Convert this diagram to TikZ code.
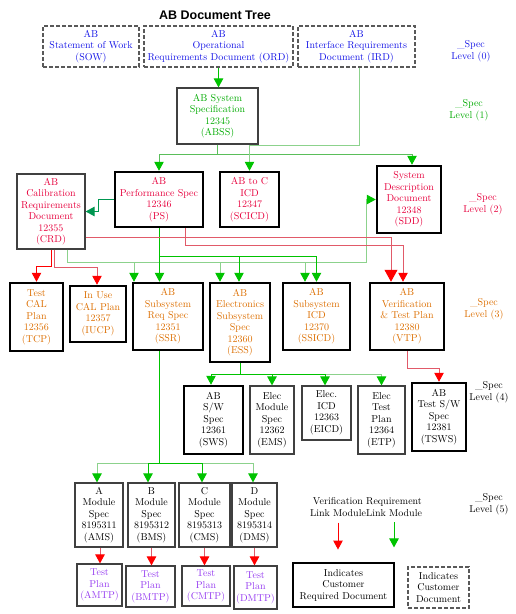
\documentclass[tikz,border=0pt]{standalone}
\usepackage{fontspec}
\usetikzlibrary{arrows.meta}
\newfontfamily\titlefont{Liberation Sans}
\definecolor{docblue}{RGB}{20,20,230}
\definecolor{docgreen}{RGB}{0,170,0}
\definecolor{docred}{RGB}{230,0,60}
\definecolor{docorange}{RGB}{220,110,0}
\definecolor{docpurple}{RGB}{150,60,240}
\definecolor{gbright}{RGB}{0,195,0}
\definecolor{gmid}{RGB}{90,190,90}
\definecolor{glight}{RGB}{140,210,140}
\definecolor{gteal}{RGB}{0,150,80}
\definecolor{rbright}{RGB}{255,0,0}
\definecolor{rlight}{RGB}{225,90,105}

\begin{document}
\begin{tikzpicture}[x=1pt,y=-1pt,
    every node/.style={font=\fontsize{10}{11.5}\selectfont, align=center, inner sep=0pt},
    doc/.style={draw=black!75, line width=1.2pt},
    reqdoc/.style={draw=black, line width=2.5pt},
    custdoc/.style={draw=black!65, line width=1.2pt, dash pattern=on 4pt off 2pt},
    gtip/.style={-{Triangle[width=9.5pt,length=9pt,color=gbright]}},
    rtip/.style={-{Triangle[width=9.5pt,length=9pt,color=rbright]}},
    glinkA/.style={draw=gbright, line width=1pt, gtip},
    glinkB/.style={draw=gmid, line width=1pt, gtip},
    glinkC/.style={draw=glight, line width=1pt, gtip},
    glinkD/.style={draw=gteal, line width=1pt, -{Triangle[width=9.5pt,length=9pt,color=gteal]}},
    rlinkA/.style={draw=rbright, line width=1pt, rtip},
    rlinkB/.style={draw=rlight, line width=1pt, rtip},
    rlinkbig/.style={draw=rlight, line width=1pt, -{Triangle[width=13pt,length=12pt,color=rbright]}}]
    \useasboundingbox (0,0) rectangle (516,614);

% 标题
    \node[font=\titlefont\bfseries\fontsize{12.5}{14}\selectfont] (title) at (215,15) {AB Document Tree};

% 第0层 客户文件
    \node[custdoc, text=docblue, minimum width=96pt, minimum height=41pt] (SOW) at (91,46.5) {AB\\Statement of Work\\(SOW)};
    \node[custdoc, text=docblue, minimum width=149pt, minimum height=41pt] (ORD) at (218.5,46.5) {AB\\Operational\\Requirements Document (ORD)};
    \node[custdoc, text=docblue, minimum width=117pt, minimum height=41pt] (IRD) at (356.5,46.5) {AB\\Interface Requirements\\Document (IRD)};
    \node[text=docblue] (lv0) at (471,51) {\_Spec\\Level (0)};

% 第1层
    \node[doc, text=docgreen, minimum width=81pt, minimum height=56pt] (ABSS) at (217.5,116) {AB System\\Specification\\12345\\(ABSS)};
    \node[text=docgreen] (lv1) at (469,110) {\_Spec\\Level (1)};

% 第2层
    \node[doc, text=docred, minimum width=68pt, minimum height=75pt] (CRD) at (51,211.5) {AB\\Calibration\\Requirements\\Document\\12355\\(CRD)};
    \node[reqdoc, text=docred, minimum width=88pt, minimum height=55pt] (PS) at (159,199.5) {AB\\Performance Spec\\12346\\(PS)};
    \node[reqdoc, text=docred, minimum width=59pt, minimum height=55pt] (SCICD) at (249.5,199.5) {AB to C\\ICD\\12347\\(SCICD)};
    \node[reqdoc, text=docred, minimum width=64pt, minimum height=67pt] (SDD) at (409,199.5) {System\\Description\\Document\\12348\\(SDD)};
    \node[text=docred] (lv2) at (483,204) {\_Spec\\Level (2)};

% 第3层
    \node[reqdoc, text=docorange, minimum width=53pt, minimum height=68pt] (TCP) at (36.5,317) {Test\\CAL\\Plan\\12356\\(TCP)};
    \node[reqdoc, text=docorange, minimum width=56pt, minimum height=56pt] (IUCP) at (98,314) {In Use\\CAL Plan\\12357\\(IUCP)};
    \node[reqdoc, text=docorange, minimum width=70pt, minimum height=67pt] (SSR) at (168,316.5) {AB\\Subsystem\\Req Spec\\12351\\(SSR)};
    \node[reqdoc, text=docorange, minimum width=60pt, minimum height=79pt] (ESS) at (240,322.5) {AB\\Electronics\\Subsystem\\Spec\\12360\\(ESS)};
    \node[reqdoc, text=docorange, minimum width=67pt, minimum height=67pt] (SSICD) at (316.5,316.5) {AB\\Subsystem\\ICD\\12370\\(SSICD)};
    \node[reqdoc, text=docorange, minimum width=74pt, minimum height=67pt] (VTP) at (407,316.5) {AB\\Verification\\\& Test Plan\\12380\\(VTP)};
    \node[text=docorange] (lv3) at (484,309) {\_Spec\\Level (3)};

% 第4层
    \node[reqdoc, minimum width=59pt, minimum height=68pt] (SWS) at (213.5,420) {AB\\S/W\\Spec\\12361\\(SWS)};
    \node[doc, minimum width=44pt, minimum height=68pt] (EMS) at (272,420) {Elec\\Module\\Spec\\12362\\(EMS)};
    \node[doc, minimum width=49pt, minimum height=54pt] (EICD) at (326.5,413) {Elec.\\ICD\\12363\\(EICD)};
    \node[doc, minimum width=47pt, minimum height=68pt] (ETP) at (381.5,420) {Elec\\Test\\Plan\\12364\\(ETP)};
    \node[reqdoc, minimum width=54pt, minimum height=68pt] (TSWS) at (439,417) {AB\\Test S/W\\Spec\\12381\\(TSWS)};
    \node (lv4) at (489,392) {\_Spec\\Level (4)};

% 第5层
    \node[doc, minimum width=48pt, minimum height=64pt] (AMS) at (99,515) {A\\Module\\Spec\\8195311\\(AMS)};
    \node[doc, minimum width=47pt, minimum height=64pt] (BMS) at (151.5,515) {B\\Module\\Spec\\8195312\\(BMS)};
    \node[doc, minimum width=51pt, minimum height=64pt] (CMS) at (204.5,515) {C\\Module\\Spec\\8195313\\(CMS)};
    \node[doc, minimum width=45pt, minimum height=64pt] (DMS) at (254.5,515) {D\\Module\\Spec\\8195314\\(DMS)};
    \node[doc, text=docpurple, minimum width=45pt, minimum height=42pt] (AMTP) at (99.5,585) {Test\\Plan\\(AMTP)};
    \node[doc, text=docpurple, minimum width=49pt, minimum height=41pt] (BMTP) at (150.5,586.5) {Test\\Plan\\(BMTP)};
    \node[doc, text=docpurple, minimum width=48pt, minimum height=40pt] (CMTP) at (206,586) {Test\\Plan\\(CMTP)};
    \node[doc, text=docpurple, minimum width=43pt, minimum height=43pt] (DMTP) at (255.5,587.5) {Test\\Plan\\(DMTP)};
    \node (lv5) at (489,504) {\_Spec\\Level (5)};

% 图例
    \node (vlink) at (338,507) {Verification\\Link Module};
    \node (rqlink) at (394,507) {Requirement\\Link Module};
    \draw[rlinkA] (vlink.south) ++(0,6) -- ++(0,27);
    \draw[glinkA] (rqlink.south) ++(0,6) -- ++(0,25);
    \node[reqdoc, minimum width=101pt, minimum height=44pt] (keyreq) at (343.5,585) {Indicates\\Customer\\Required Document};
    \node[custdoc, minimum width=61pt, minimum height=41pt] (keycust) at (438.5,587.5) {Indicates\\Customer\\Document};

% 需求链接 (绿色)
    \draw[glinkA] (ORD.south) -- (ORD.south |- ABSS.north);
    \draw[glinkB] (ABSS.south) -- ++(0,10) -| (PS.north);
    \draw[glinkB] (ABSS.south) -- ++(0,10) -| ([xshift=3pt]SDD.north);
    \draw[glinkC] ([xshift=2.5pt]IRD.south) -- ++(0,78) -| (SCICD.north);
    \draw[glinkD] (PS.west) -- ++(-15,0) |- (CRD.east);
    \coordinate (crdbus) at (366,262);
    \draw[glinkC] ([xshift=16pt]CRD.south) |- (crdbus) |- (SDD.west);
    \draw[glinkC] ([xshift=-34pt]SSR.north |- crdbus) -- ([xshift=-34pt]SSR.north);
    \draw[glinkC] ([xshift=-20pt]ESS.north |- crdbus) -- ([xshift=-20pt]ESS.north);
    \draw[glinkC] ([xshift=-11.5pt]SSICD.north |- crdbus) -- ([xshift=-11.5pt]SSICD.north);
    \draw[glinkA] ([xshift=0.5pt]PS.south) -- ([xshift=0.5pt]PS.south |- SSR.north);
    \draw[glinkA] ([xshift=0.5pt]PS.south) -- ++(0,28) -| ([xshift=-1pt]ESS.north);
    \draw[glinkA] ([xshift=0.5pt]PS.south) -- ++(0,28) -| (SSICD.north);
    \coordinate (essbus) at (240,374);
    \draw[glinkC] (essbus) -| (ETP.north);
    \draw[glinkA] (ESS.south) -- (essbus) -| ([xshift=-2.5pt]SWS.north);
    \draw[glinkA] (essbus) -| (EMS.north);
    \draw[glinkA] (essbus) -| ([xshift=-1.5pt]EICD.north);
    \coordinate (modbus) at (159.5,463.5);
    \draw[glinkC] (modbus) -| ([xshift=-2pt]AMS.north);
    \draw[glinkC] (modbus) -| ([xshift=-1.5pt]DMS.north);
    \draw[glinkA] ([xshift=-8.5pt]SSR.south) -- (modbus) -| ([xshift=-3.5pt]BMS.north);
    \draw[glinkA] (modbus) -| ([xshift=-2.5pt]CMS.north);

% 验证链接 (红色)
    \draw[rlinkA] (CRD.south) -- ++(0,17) -| (TCP.north);
    \draw[rlinkB] ([xshift=3pt]CRD.south) -- ++(0,18) -| ([xshift=-1pt]IUCP.north);
    \draw[rlinkbig] ([yshift=-25.5pt]CRD.east) -| ([xshift=-16pt]VTP.north);
    \draw[rlinkB] ([xshift=26pt]PS.south) -- ++(0,17) -| ([xshift=-4pt]VTP.north);
    \draw[rlinkB] (VTP.south) -- ++(0,17) -| (TSWS.north);
    \draw[rlinkB] ([xshift=1pt]AMS.south) -- ([xshift=1pt]AMS.south |- AMTP.north);
    \draw[rlinkB] (BMS.south) -- (BMS.south |- BMTP.north);
    \draw[rlinkB] (CMS.south) -- (CMS.south |- CMTP.north);
    \draw[rlinkB] (DMS.south) -- (DMS.south |- DMTP.north);
\end{tikzpicture}
\end{document}
